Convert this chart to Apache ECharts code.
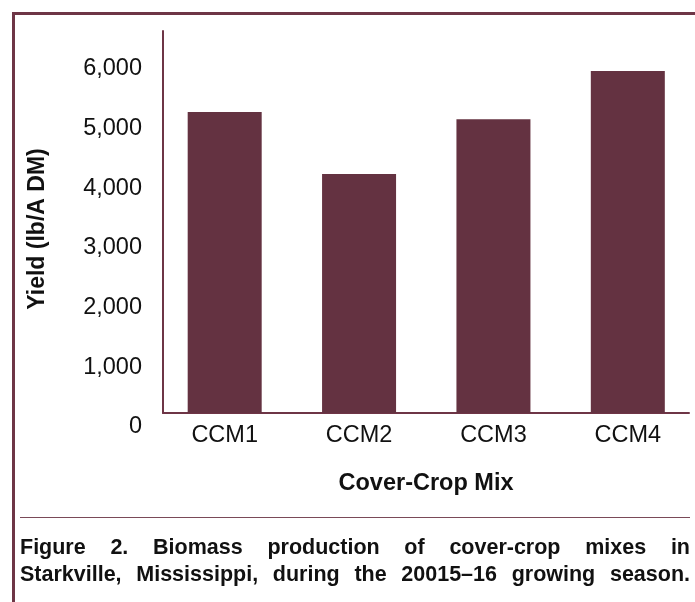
<!DOCTYPE html>
<html><head><meta charset="utf-8">
<script src="https://cdn.jsdelivr.net/npm/echarts@6/dist/echarts.min.js"></script>
<style>html,body{margin:0;padding:0;background:#fff}#c{width:695px;height:602px}</style>
</head><body><div id="c"></div>
<script>
var categories = ['CCM1', 'CCM2', 'CCM3', 'CCM4'];
var yieldValues = [5280, 4240, 5160, 5965];
var yTicks = [0, 1000, 2000, 3000, 4000, 5000, 6000];
var captionLines = ['Figure 2. Biomass production of cover-crop mixes in',
                    'Starkville, Mississippi, during the 20015\u201316 growing season.'];

var maroon = '#643241';
var lineCol = '#6e3546';
var font = '"Liberation Sans", Arial, Helvetica, sans-serif';
var capFont = '"Liberation Sans", Arial, sans-serif';

var chart = echarts.init(document.getElementById('c'), null, {renderer: 'canvas'});

var ctx = document.createElement('canvas').getContext('2d');
function justify(text, y, x0, x1, size) {
  ctx.font = 'bold ' + size + 'px ' + capFont;
  var words = text.split(' ');
  var widths = words.map(function (w) { return ctx.measureText(w).width; });
  var total = widths.reduce(function (a, b) { return a + b; }, 0);
  var gap = (x1 - x0 - total) / (words.length - 1);
  var x = x0, els = [];
  words.forEach(function (w, i) {
    els.push({type: 'text', x: x, y: y, style: {text: w, fontFamily: capFont, fontWeight: 'bold',
      fontSize: size, fill: '#111', verticalAlign: 'middle'}});
    x += widths[i] + gap;
  });
  return els;
}

var graphics = [
  {type: 'line', shape: {x1: 12, y1: 13.5, x2: 695, y2: 13.5}, style: {stroke: lineCol, lineWidth: 3}},
  {type: 'line', shape: {x1: 13.5, y1: 12, x2: 13.5, y2: 602}, style: {stroke: lineCol, lineWidth: 3}},
  {type: 'line', shape: {x1: 20, y1: 517.5, x2: 690, y2: 517.5}, style: {stroke: '#7a4a58', lineWidth: 1.2}}
].concat(justify(captionLines[0], 548, 20, 690, 21.5), justify(captionLines[1], 575, 20, 690, 21.5));

var option = {
  animation: false,
  backgroundColor: '#fff',
  grid: [
    {left: 163, right: 6, top: 31, bottom: 602 - 427},
    {left: 163, right: 6, top: 31, bottom: 602 - 413},
    {left: 157.5, width: 548, top: 31, bottom: 602 - 413}
  ],
  xAxis: [
    {gridIndex: 0, type: 'category', data: categories, show: false},
    {gridIndex: 1, type: 'category', data: categories,
     axisLine: {lineStyle: {color: lineCol, width: 2}}, axisTick: {show: false}, axisLabel: {show: false},
     name: 'Cover-Crop Mix', nameLocation: 'middle', nameGap: 59,
     nameTextStyle: {color: '#111', fontFamily: font, fontWeight: 'bold', fontSize: 23.5}},
    {gridIndex: 2, type: 'category', data: categories,
     axisLine: {show: false}, axisTick: {show: false},
     axisLabel: {color: '#111', fontFamily: font, fontSize: 23.5, margin: 11}}
  ],
  yAxis: [
    {gridIndex: 0, type: 'value', min: 0, max: 6637, interval: 1000,
     axisLine: {show: false}, axisTick: {show: false}, splitLine: {show: false},
     axisLabel: {color: '#111', fontFamily: font, fontSize: 23.5, margin: 21,
       formatter: function (v) { return yTicks.indexOf(v) >= 0 ? v.toLocaleString('en-US') : ''; }},
     name: 'Yield (lb/A DM)', nameLocation: 'middle', nameGap: 114, nameRotate: 90,
     nameTextStyle: {color: '#111', fontFamily: font, fontWeight: 'bold', fontSize: 23}},
    {gridIndex: 1, type: 'value', min: 235, max: 6637,
     axisLine: {show: true, lineStyle: {color: lineCol, width: 2}}, axisTick: {show: false},
     splitLine: {show: false}, axisLabel: {show: false}},
    {gridIndex: 2, type: 'value', min: 235, max: 6637, show: false, splitLine: {show: false}}
  ],
  series: [{
    type: 'bar', xAxisIndex: 2, yAxisIndex: 2, data: yieldValues, barWidth: 74,
    itemStyle: {color: maroon}, clip: true
  }],
  graphic: graphics
};
chart.setOption(option);
</script></body></html>
